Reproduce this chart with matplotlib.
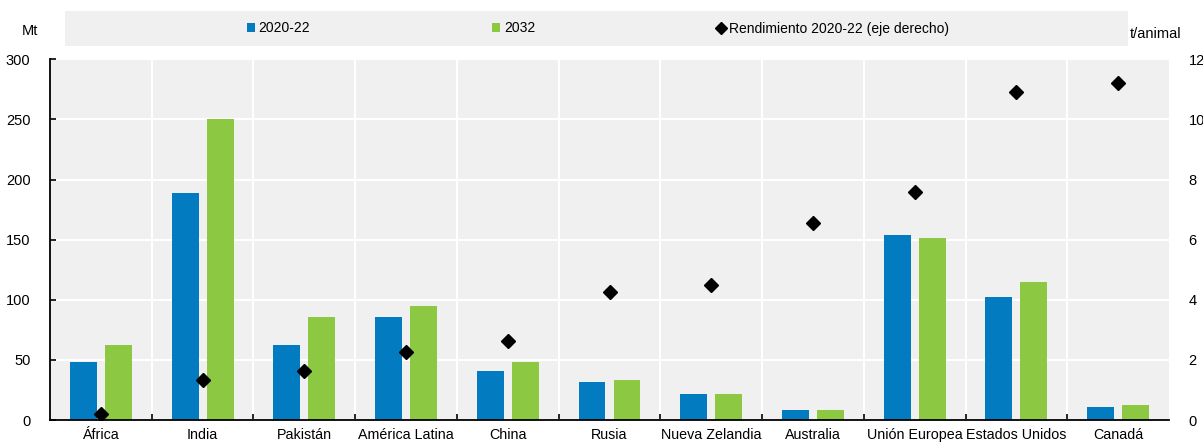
import matplotlib
matplotlib.use('Agg')
import matplotlib.pyplot as plt
from matplotlib.patches import Rectangle, Patch
from matplotlib.lines import Line2D
import numpy as np

# data
regions = ['África', 'India', 'Pakistán', 'América Latina', 'China', 'Rusia',
           'Nueva Zelandia', 'Australia', 'Unión Europea', 'Estados Unidos', 'Canadá']
prod_2020_22 = [48, 189, 62.5, 85.5, 41, 32, 21.5, 8.5, 153.5, 102.5, 10.5]
prod_2032 = [62, 250, 85.5, 94.5, 48.5, 33, 21.5, 8, 151, 115, 12.5]
yield_2020_22 = [0.2, 1.33, 1.62, 2.25, 2.63, 4.27, 4.5, 6.57, 7.58, 10.9, 11.2]

left_ticks = [0, 50, 100, 150, 200, 250, 300]
right_ticks = [0, 2, 4, 6, 8, 10, 12]

blue = '#037BC1'
green = '#8CC841'
bg = '#F0F0F0'

plt.rcParams['font.family'] = ['Liberation Sans', 'DejaVu Sans']
plt.rcParams['font.size'] = 10

fig = plt.figure(figsize=(12.03, 4.42), dpi=100)
ax = fig.add_axes([50 / 1203, 1 - 420 / 442, 1119 / 1203, 360.7 / 442])
ax.set_facecolor(bg)

x = np.arange(len(regions))
w = 0.265
ax.bar(x - 0.172, prod_2020_22, width=w, color=blue, zorder=3)
ax.bar(x + 0.172, prod_2032, width=w, color=green, zorder=3)

ax.set_xlim(-0.5, len(regions) - 0.5)
ax.set_ylim(0, 300)
ax.set_yticks(left_ticks)
ax.set_xticks(x)
ax.set_xticklabels(regions, fontsize=10.3)
ax.set_xticks(x[:-1] + 0.5, minor=True)
ax.tick_params(axis='x', which='major', length=0, pad=6)
ax.tick_params(axis='x', which='minor', direction='in', length=4, width=1.2)
ax.tick_params(axis='y', direction='in', length=4, width=1.2, pad=14,
               labelsize=10.5)
ax.grid(axis='y', color='white', linewidth=1.5, zorder=0)
ax.grid(axis='x', which='minor', color='white', linewidth=1.5, zorder=0)
for s in ['top', 'right']:
    ax.spines[s].set_visible(False)
for s in ['left', 'bottom']:
    ax.spines[s].set_linewidth(1.3)
ax.spines['bottom'].set_zorder(5)

ax2 = ax.twinx()
ax2.plot(x, yield_2020_22, linestyle='none', marker='D', markersize=7.5,
         color='black', zorder=4)
ax2.set_ylim(0, 12)
ax2.set_yticks(right_ticks)
ax2.tick_params(axis='y', length=0, pad=14, labelsize=10.5)
for s in ax2.spines.values():
    s.set_visible(False)

# legend strip
fig.patches.append(Rectangle((65 / 1203, 1 - 45.5 / 442), 1063 / 1203, 34.5 / 442,
                             transform=fig.transFigure, facecolor=bg,
                             edgecolor='none', zorder=0))
handles = [Patch(facecolor=blue), Patch(facecolor=green),
           Line2D([], [], linestyle='none', marker='D', markersize=6, color='black')]
fig.legend(handles, ['2020-22', '2032', 'Rendimiento 2020-22 (eje derecho)'],
           loc='center', bbox_to_anchor=(598 / 1203, 1 - 28.5 / 442), ncol=3,
           frameon=False, handlelength=0.55, handleheight=0.55, handletextpad=0.3,
           columnspacing=13.1, borderpad=0, borderaxespad=0)

fig.text(30 / 1203, 1 - 31 / 442, 'Mt', ha='center', va='center', fontsize=10.5)
fig.text(1130 / 1203, 1 - 34 / 442, 't/animal', ha='left', va='center',
         fontsize=10.5)

fig.savefig('out.png', dpi=100)
